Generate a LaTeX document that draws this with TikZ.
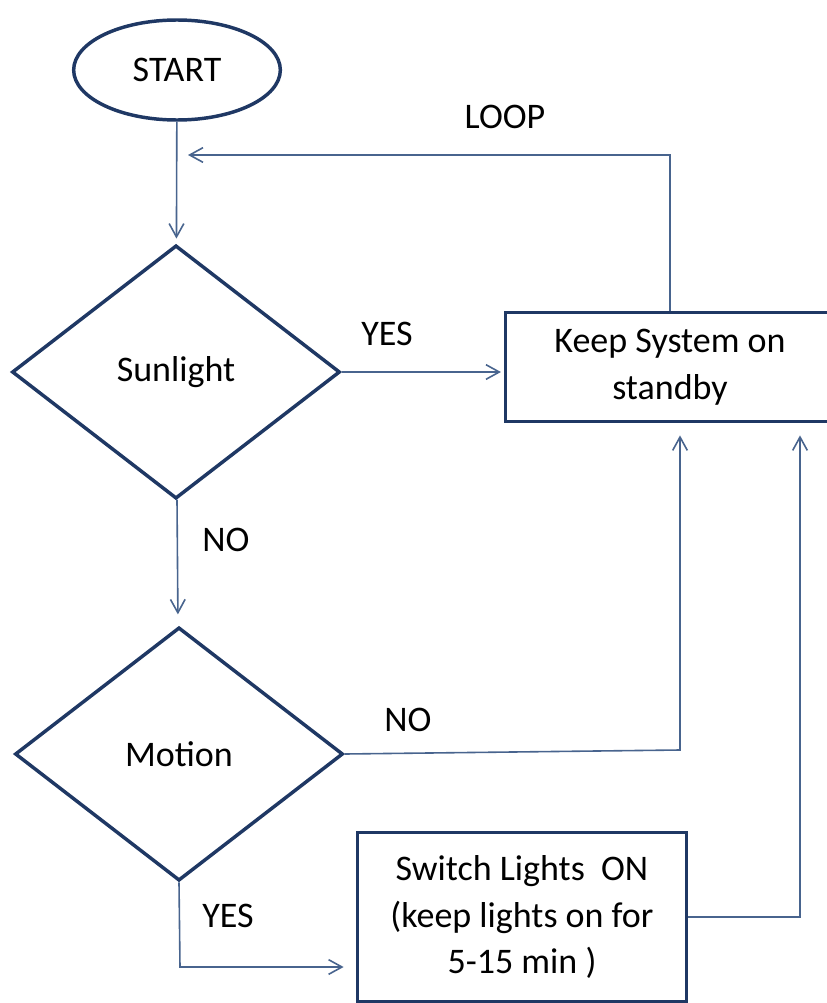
\documentclass[tikz,border=0pt]{standalone}
\usepackage{fontspec}
\setmainfont{Carlito}
\usetikzlibrary{shapes.geometric,arrows.meta}
\definecolor{navy}{RGB}{31,56,100}
\definecolor{linkblue}{RGB}{72,100,142}
\begin{document}
\begin{tikzpicture}[x=0.75pt,y=-0.75pt,
	font=\fontsize{27}{35}\selectfont,
	shapebox/.style={draw=navy,line width=2.6pt,align=center,inner sep=0pt},
	link/.style={draw=linkblue,line width=1.2pt,-{Straight Barb[length=10pt,width=11pt]}}]
	\useasboundingbox (0,0) rectangle (827,1003);
	\node[shapebox,ellipse,minimum width=155pt,minimum height=75pt] (1) at (177,70) {START};
	\node[shapebox,diamond,minimum width=246pt,minimum height=190pt] (2) at (176,372) {Sunlight};
	\node[shapebox,rectangle,minimum width=247pt,minimum height=82pt] (3) at (670,367) {Keep System on\\standby};
	\node[shapebox,diamond,minimum width=246pt,minimum height=190pt] (4) at (179,754) {Motion};
	\node[shapebox,rectangle,minimum width=247pt,minimum height=127pt] (5) at (522,917) {Switch Lights\ \ ON\\(keep lights on for\\5-15 min )};
	\node (10) at (505,117) {LOOP};
	\node (11) at (387,334) {YES};
	\node (12) at (226,540) {NO};
	\node (13) at (408,720) {NO};
	\node (14) at (228,916) {YES};
	\coordinate (6) at (188,155);
	\coordinate (7) at (680,750);
	\coordinate (8) at (180,967);
	\coordinate (9) at (800,917);
	\draw[link,shorten >=4pt] (1) -- (2);
	\draw[link,shorten >=2pt] (2.east) -- (2.east -| 3.west);
	\draw[link] (3.north) |- (6);
	\draw[link,shorten >=9pt] (2) -- (4);
	\draw[link,shorten >=9pt] (4.east) -- (7) -- (7 |- 3.south);
	\draw[link,shorten >=9pt] (4.south) -- (8) -- (8 -| 5.west);
	\draw[link,shorten >=9pt] (5.east) -- (9) -- (9 |- 3.south);
\end{tikzpicture}
\end{document}
